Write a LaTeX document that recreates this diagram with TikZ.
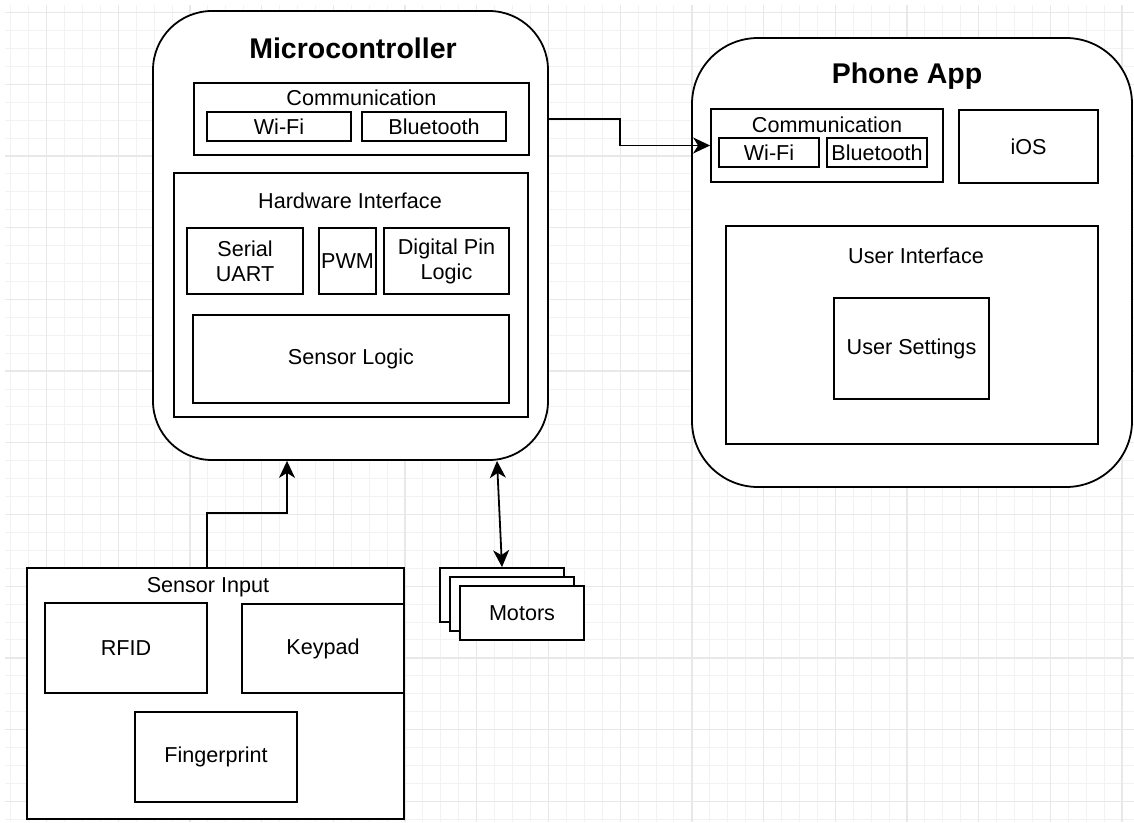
\documentclass[tikz,border=0pt]{standalone}
\usepackage{fontspec}
\setmainfont{Liberation Sans}
\usetikzlibrary{arrows.meta}
\tikzset{
  gminor/.style={draw=black!5, line width=1pt},
  gmajor/.style={draw=black!9, line width=1.3pt},
  txt/.style={font=\fontsize{21.6}{25}\selectfont, inner sep=0pt},
  ttl/.style={font=\fontsize{28.5}{32}\selectfont\bfseries, inner sep=0pt},
  box/.style={draw=black, fill=white, line width=1.8pt, inner sep=0pt, align=center,
    font=\fontsize{21.6}{25}\selectfont},
  cont/.style={box, rounded corners=#1},
  tipa/.tip={Stealth[length=17pt,width=16pt,inset=5pt]},
  arr/.style={draw=black, line width=1.8pt, -tipa},
  darr/.style={draw=black, line width=1.8pt, tipa-tipa},
}
\begin{document}
\begin{tikzpicture}[x=1pt,y=-1pt]
\useasboundingbox (0,0) rectangle (1134,822);
\fill[white] (0,0) rectangle (1134,822);
% grid
\foreach \i in {0,...,62} {\pgfmathsetmacro\xx{10.7+\i*17.925}\draw[gminor] (\xx,5) -- (\xx,822);}
\foreach \i in {0,...,45} {\pgfmathsetmacro\yy{12.6+\i*17.925}\draw[gminor] (5,\yy) -- (1134,\yy);}
\foreach \i in {0,...,15} {\pgfmathsetmacro\xx{46.6+\i*71.7}\draw[gmajor] (\xx,5) -- (\xx,822);}
\foreach \i in {0,...,11} {\pgfmathsetmacro\yy{12.6+\i*71.7}\draw[gmajor] (5,\yy) -- (1134,\yy);}

% Microcontroller
\node[cont=59pt, minimum width=395pt, minimum height=449pt] (mc) at (350.5,235.5) {};
\node[ttl] (mctitle) at (353,48) {Microcontroller};
\node[box, minimum width=335pt, minimum height=72pt] (mccomm) at (361.5,119) {};
\node[txt] (mccommt) at (361.5,98) {Communication};
\node[box, minimum width=144pt, minimum height=29pt] (mcwifi) at (279,126.5) {Wi-Fi};
\node[box, minimum width=144pt, minimum height=29pt] (mcbt) at (434,126.5) {Bluetooth};
\node[box, minimum width=354pt, minimum height=244pt] (hw) at (351,295) {};
\node[txt] (hwt) at (350,201) {Hardware Interface};
\node[box, minimum width=116pt, minimum height=66pt] (uart) at (245,261) {Serial\\UART};
\node[box, minimum width=57pt, minimum height=66pt] (pwm) at (347.5,261) {PWM};
\node[box, minimum width=125pt, minimum height=66pt] (dpl) at (446.5,261) {Digital Pin\\Logic};
\node[box, minimum width=316pt, minimum height=88pt] (slogic) at (351,359) {Sensor Logic};

% Phone App
\node[cont=66pt, minimum width=440pt, minimum height=449pt] (phone) at (912,262.5) {};
\node[ttl] (phtitle) at (907,76) {Phone App};
\node[box, minimum width=232pt, minimum height=73pt] (pcomm) at (827,145.5) {};
\node[txt] (pcommt) at (827,125) {Communication};
\node[box, minimum width=100pt, minimum height=29pt] (pwifi) at (769,152.5) {Wi-Fi};
\node[box, minimum width=100pt, minimum height=29pt] (pbt) at (877,152.5) {Bluetooth};
\node[box, minimum width=139pt, minimum height=73pt] (ios) at (1028.5,146.5) {iOS};
\node[box, minimum width=372pt, minimum height=218pt] (ui) at (912,335) {};
\node[txt] (uit) at (916,256) {User Interface};
\node[box, minimum width=155pt, minimum height=101pt] (uset) at (911.5,348.5) {User Settings};

% Motors
\node[box, minimum width=124pt, minimum height=54pt] (mot1) at (502,595) {};
\node[box, minimum width=124pt, minimum height=54pt] (mot2) at (512,604) {};
\node[box, minimum width=124pt, minimum height=54pt] (mot3) at (522,613) {Motors};

% Sensor Input
\node[box, minimum width=377pt, minimum height=251pt] (sens) at (215.5,693.5) {};
\node[txt] (senst) at (208,587) {Sensor Input};
\node[box, minimum width=162pt, minimum height=90pt] (rfid) at (126,648) {RFID};
\node[box, minimum width=162pt, minimum height=89pt] (keypad) at (323,648.5) {Keypad};
\node[box, minimum width=162pt, minimum height=90pt] (finger) at (216,757) {Fingerprint};

% connectors
\draw[arr] (mc.east |- mccomm.center) -- ++(71,0) |- (pcomm.west);
\draw[arr] ([xshift=-8.5pt]sens.north) -- ++(0,-54) -| ([xshift=-63.5pt]mc.south);
\draw[darr] ([xshift=146.5pt]mc.south) -- (mot1.north);
\end{tikzpicture}
\end{document}
